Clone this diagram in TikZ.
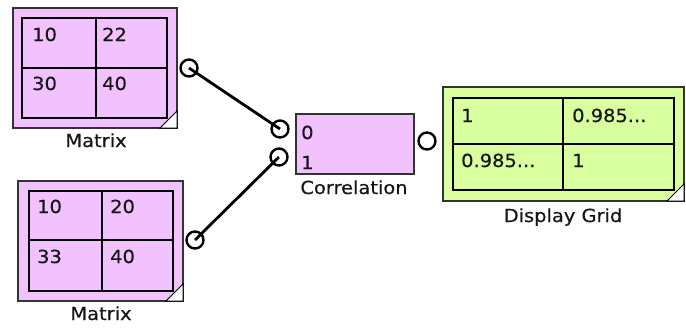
\documentclass[tikz,border=0pt]{standalone}
\usepackage{fontspec}
\newfontfamily\uifont[FakeStretch=1.08,FakeBold=0.4]{DejaVu Sans}
\definecolor{pinkfill}{HTML}{F2C2FF}
\definecolor{greenfill}{HTML}{D9FF9F}
\definecolor{textc}{HTML}{151515}
\begin{document}
\begin{tikzpicture}[x=1pt,y=-1pt,
  box/.style={draw=black!80, line width=1.3pt, inner sep=0, outer sep=0},
  gridl/.style={draw=black, line width=1.8pt},
  port/.style={circle, draw=black, line width=2.4pt, minimum size=17pt, inner sep=0},
  wire/.style={line width=2.8pt, draw=black},
  celltxt/.style={anchor=base west, inner sep=0, font=\uifont\fontsize{18}{21}\selectfont, text=textc},
  lbl/.style={anchor=base, inner sep=0, font=\uifont\fontsize{18}{21}\selectfont, text=textc},
  corner/.style={draw=black, fill=white, line width=1pt}]
\useasboundingbox (0,0) rectangle (686,333);

% Matrix 1
\node[box, fill=pinkfill, minimum width=164pt, minimum height=120pt] (m1) at (95,68) {};
\draw[gridl] (22,18) rectangle (167,118) (96,18) -- (96,118) (22,68) -- (167,68);
\draw[corner] ([xshift=-17pt]m1.south east) -- ([yshift=17pt]m1.south east) -- (m1.south east) -- cycle;
\node[celltxt] (m1a) at (32,41) {10};
\node[celltxt] (m1b) at (102,41) {22};
\node[celltxt] (m1c) at (32,90) {30};
\node[celltxt] (m1d) at (102,90) {40};
\node[lbl] (m1l) at (96,147) {Matrix};

% Matrix 2
\node[box, fill=pinkfill, minimum width=165pt, minimum height=120pt] (m2) at (100.5,241) {};
\draw[gridl] (29,191) rectangle (173,291) (102,191) -- (102,291) (29,240) -- (173,240);
\draw[corner] ([xshift=-17pt]m2.south east) -- ([yshift=17pt]m2.south east) -- (m2.south east) -- cycle;
\node[celltxt] (m2a) at (37,213) {10};
\node[celltxt] (m2b) at (110,213) {20};
\node[celltxt] (m2c) at (37,263) {33};
\node[celltxt] (m2d) at (110,263) {40};
\node[lbl] (m2l) at (101,320) {Matrix};

% Correlation
\node[box, fill=pinkfill, minimum width=118pt, minimum height=60pt] (cor) at (355,144) {};
\node[celltxt] (c0t) at (301,139) {0};
\node[celltxt] (c1t) at (301,169) {1};
\node[lbl] (corl) at (354,194) {Correlation};

% Display grid
\node[box, fill=greenfill, minimum width=241pt, minimum height=114pt] (dg) at (563.5,144) {};
\draw[gridl] (453,98) rectangle (674,190) (563,98) -- (563,190) (453,144) -- (674,144);
\draw[corner] ([xshift=-17pt]dg.south east) -- ([yshift=17pt]dg.south east) -- (dg.south east) -- cycle;
\node[celltxt] (d1) at (461,122) {1};
\node[celltxt] (d2) at (572,122) {0.985...};
\node[celltxt] (d3) at (461,167) {0.985...};
\node[celltxt] (d4) at (572,167) {1};
\node[lbl] (dgl) at (563,222) {Display Grid};

% Ports
\node[port] (m1o) at (189,68) {};
\node[port] (m2o) at (195,240) {};
\node[port] (c0) at (280,129) {};
\node[port] (c1) at (279,157) {};
\node[port, fill=white] (co) at (427,141) {};

% Wires
\draw[wire] (m1o.center) -- (c0.center);
\draw[wire] (m2o.center) -- (c1.center);
\end{tikzpicture}
\end{document}
